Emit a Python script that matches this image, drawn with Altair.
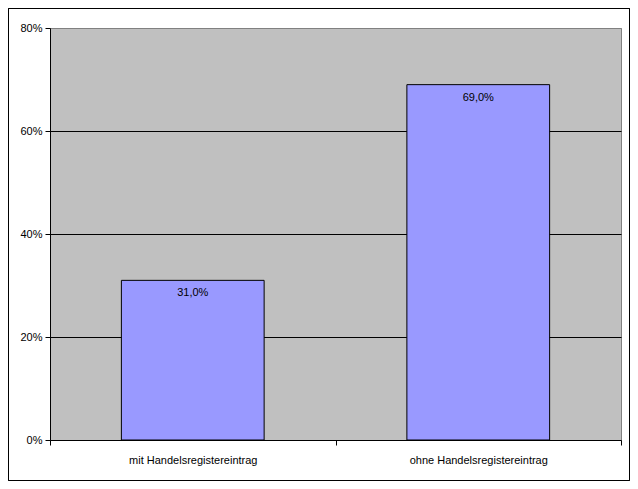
import altair as alt
import pandas as pd

categories = ["mit Handelsregistereintrag", "ohne Handelsregistereintrag"]
values = [0.31, 0.69]
labels = ["31,0%", "69,0%"]

df = pd.DataFrame({"cat": categories, "val": values, "lab": labels})

FONT = "Liberation Sans"
W, H = 571, 412

x = alt.X("cat:N", sort=categories, title=None,
          scale=alt.Scale(paddingInner=0, paddingOuter=0),
          axis=alt.Axis(labelAngle=0, tickBand="extent", domainColor="black",
                        tickColor="black", tickSize=5, labelPadding=9,
                        labelFont=FONT, labelFontSize=11, labelColor="black",
                        grid=False))
y = alt.Y("val:Q", title=None,
          scale=alt.Scale(domain=[0, 0.8], nice=False),
          axis=alt.Axis(values=[0, 0.2, 0.4, 0.6, 0.8], format=".0%",
                        domainColor="black", tickColor="black", tickSize=5,
                        labelFont=FONT, labelFontSize=11, labelColor="black",
                        labelPadding=3,
                        gridColor={"condition": {"test": "datum.value >= 0.8 || datum.value <= 0", "value": "#808080"}, "value": "black"},
                        gridOpacity=1, gridWidth=1))

bars = alt.Chart(df).mark_bar(width={"band": 0.5}, color="#9999FF",
                              stroke="black", strokeWidth=1).encode(x=x, y=y)
text = alt.Chart(df).mark_text(baseline="middle", dy=13, font=FONT,
                               fontSize=11, color="black").encode(
    x=alt.X("cat:N", sort=categories), y="val:Q", text="lab:N")

border = alt.Chart(df).mark_rect(fill=None, stroke="black", strokeWidth=1).encode(
    x=alt.value(-41.5), x2=alt.value(W + 8.5),
    y=alt.value(-19.5), y2=alt.value(H + 40.5))

chart = alt.layer(border, bars, text).properties(
    width=W, height=H,
    autosize=alt.AutoSizeParams(type="none"),
    padding={"left": 42, "top": 20, "right": 9, "bottom": 41},
    background="white",
).configure_view(fill="#C0C0C0", stroke="#808080", strokeWidth=1)

chart.save("out.html", embed_options={"renderer": "svg", "actions": False})
